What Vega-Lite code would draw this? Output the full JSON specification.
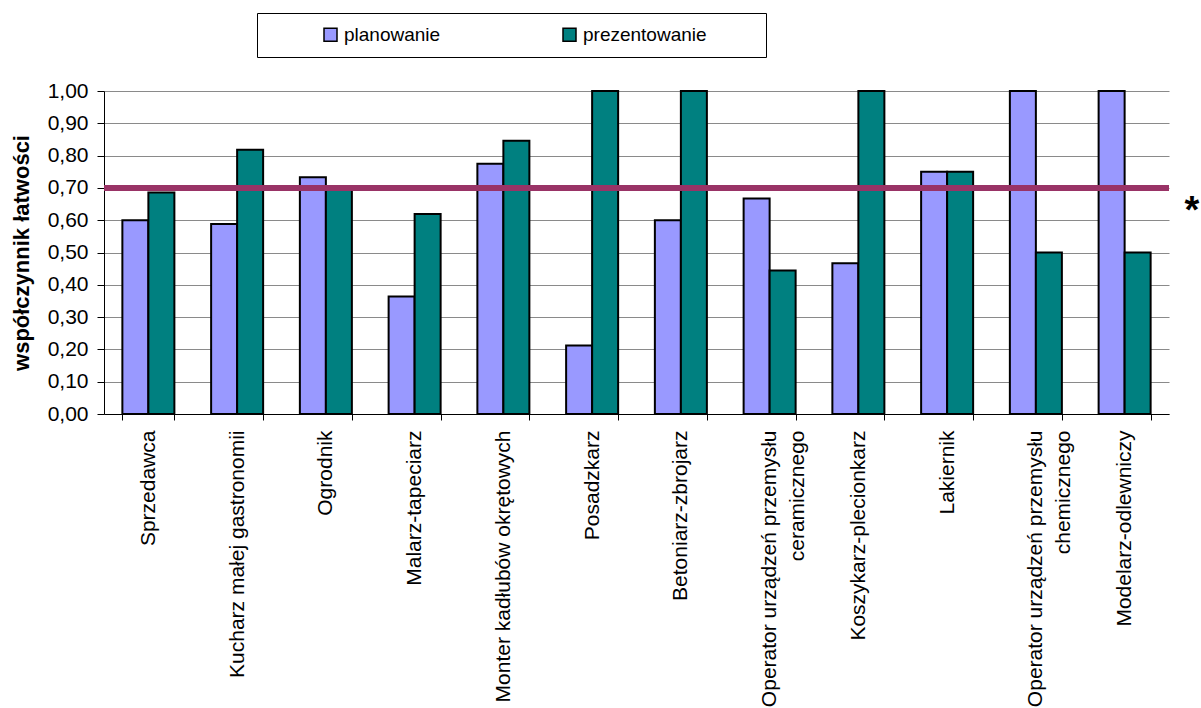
{
  "$schema": "https://vega.github.io/schema/vega-lite/v6.json",
  "width": 1065,
  "height": 323,
  "autosize": "none",
  "padding": {"left": 104, "top": 91, "right": 32, "bottom": 294},
  "background": "white",
  "config": {
    "font": "Liberation Sans",
    "view": {"stroke": null},
    "axis": {"labelColor": "#000", "titleColor": "#000"}
  },
  "layer": [
    {
      "data": {
        "values": [
          {"zawod": "Sprzedawca", "seria": "planowanie", "wartosc": 0.60},
          {"zawod": "Sprzedawca", "seria": "prezentowanie", "wartosc": 0.686},
          {"zawod": "Kucharz małej gastronomii", "seria": "planowanie", "wartosc": 0.588},
          {"zawod": "Kucharz małej gastronomii", "seria": "prezentowanie", "wartosc": 0.818},
          {"zawod": "Ogrodnik", "seria": "planowanie", "wartosc": 0.733},
          {"zawod": "Ogrodnik", "seria": "prezentowanie", "wartosc": 0.70},
          {"zawod": "Malarz-tapeciarz", "seria": "planowanie", "wartosc": 0.364},
          {"zawod": "Malarz-tapeciarz", "seria": "prezentowanie", "wartosc": 0.619},
          {"zawod": "Monter kadłubów okrętowych", "seria": "planowanie", "wartosc": 0.775},
          {"zawod": "Monter kadłubów okrętowych", "seria": "prezentowanie", "wartosc": 0.846},
          {"zawod": "Posadzkarz", "seria": "planowanie", "wartosc": 0.212},
          {"zawod": "Posadzkarz", "seria": "prezentowanie", "wartosc": 1.0},
          {"zawod": "Betoniarz-zbrojarz", "seria": "planowanie", "wartosc": 0.60},
          {"zawod": "Betoniarz-zbrojarz", "seria": "prezentowanie", "wartosc": 1.0},
          {"zawod": "Operator urządzeń przemysłu ceramicznego", "seria": "planowanie", "wartosc": 0.667},
          {"zawod": "Operator urządzeń przemysłu ceramicznego", "seria": "prezentowanie", "wartosc": 0.444},
          {"zawod": "Koszykarz-plecionkarz", "seria": "planowanie", "wartosc": 0.467},
          {"zawod": "Koszykarz-plecionkarz", "seria": "prezentowanie", "wartosc": 1.0},
          {"zawod": "Lakiernik", "seria": "planowanie", "wartosc": 0.75},
          {"zawod": "Lakiernik", "seria": "prezentowanie", "wartosc": 0.75},
          {"zawod": "Operator urządzeń przemysłu chemicznego", "seria": "planowanie", "wartosc": 1.0},
          {"zawod": "Operator urządzeń przemysłu chemicznego", "seria": "prezentowanie", "wartosc": 0.5},
          {"zawod": "Modelarz-odlewniczy", "seria": "planowanie", "wartosc": 1.0},
          {"zawod": "Modelarz-odlewniczy", "seria": "prezentowanie", "wartosc": 0.5}
        ]
      },
      "mark": {"type": "bar", "stroke": "#000", "strokeWidth": 2},
      "encoding": {
        "x": {
          "field": "zawod",
          "type": "nominal",
          "sort": null,
          "scale": {"paddingInner": 0.414, "paddingOuter": 0.207},
          "axis": {
            "title": null,
            "labelAngle": -90,
            "labelAlign": "right",
            "labelBaseline": "middle",
            "labelFontSize": 21,
            "labelLineHeight": 28,
            "labelPadding": 10,
            "labelLimit": 500,
            "tickBand": "extent",
            "tickSize": 6,
            "tickColor": "#000",
            "domainColor": "#000",
            "domainWidth": 1,
            "labelExpr": "datum.label == 'Operator urządzeń przemysłu ceramicznego' ? ['Operator urządzeń przemysłu', 'ceramicznego\u00a0\u00a0\u00a0\u00a0\u00a0\u00a0\u00a0\u00a0\u00a0\u00a0\u00a0\u00a0'] : datum.label == 'Operator urządzeń przemysłu chemicznego' ? ['Operator urządzeń przemysłu', 'chemicznego\u00a0\u00a0\u00a0\u00a0\u00a0\u00a0\u00a0\u00a0\u00a0\u00a0\u00a0\u00a0\u00a0'] : datum.label"
          }
        },
        "xOffset": {
          "field": "seria",
          "type": "nominal",
          "sort": ["planowanie", "prezentowanie"],
          "scale": {"paddingInner": 0, "paddingOuter": 0}
        },
        "y": {
          "field": "wartosc",
          "type": "quantitative",
          "scale": {"domain": [0, 1], "nice": false},
          "axis": {
            "title": "współczynnik łatwości",
            "titleFontSize": 22,
            "titleFontWeight": "bold",
            "titlePadding": 14,
            "values": [0, 0.1, 0.2, 0.3, 0.4, 0.5, 0.6, 0.7, 0.8, 0.9, 1.0],
            "labelExpr": "replace(format(datum.value, '.2f'), '.', ',')",
            "labelFontSize": 21,
            "labelPadding": 9,
            "tickSize": 7,
            "tickColor": "#000",
            "domainColor": "#000",
            "grid": true,
            "gridColor": "#8a8a8a",
            "gridWidth": 1
          }
        },
        "color": {
          "field": "seria",
          "type": "nominal",
          "scale": {"domain": ["planowanie", "prezentowanie"], "range": ["#9999FF", "#008080"]},
          "legend": {
            "orient": "none",
            "legendX": 153,
            "legendY": -78,
            "direction": "horizontal",
            "title": "\u2800\u2800\u2800\u2800",
            "titleOrient": "left",
            "titleFontSize": 18,
            "titlePadding": 0,
            "strokeColor": "#000",
            "padding": 12,
            "symbolType": "square",
            "symbolSize": 169,
            "symbolStrokeColor": "#000",
            "symbolStrokeWidth": 1.5,
            "symbolOpacity": 1,
            "labelFontSize": 19,
            "labelColor": "#000",
            "labelOffset": 4,
            "columnPadding": 119,
            "labelLimit": 400,
            "labelExpr": "datum.label == 'prezentowanie' ? 'prezentowanie\u00a0\u2800\u2800\u2800' : datum.label"
          }
        }
      }
    },
    {
      "data": {"values": [{"prog": 0.7}]},
      "mark": {"type": "rule", "color": "#993366", "strokeWidth": 6},
      "encoding": {
        "y": {
          "field": "prog",
          "type": "quantitative",
          "axis": {
            "orient": "right",
            "title": "*",
            "titleAngle": 0,
            "titleFontSize": 38,
            "titleFontWeight": "bold",
            "titleAlign": "left",
            "titleBaseline": "alphabetic",
            "titleX": 15,
            "titleY": 131,
            "labels": false,
            "ticks": false,
            "domain": false,
            "grid": false
          }
        }
      }
    }
  ],
  "resolve": {"axis": {"y": "independent"}}
}
